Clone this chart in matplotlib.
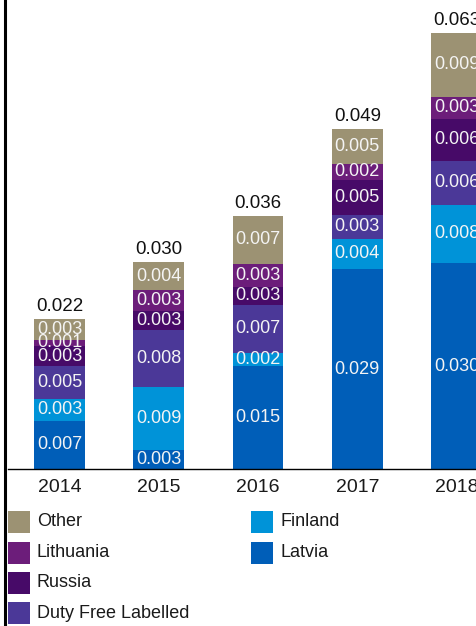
import numpy as np
import matplotlib
matplotlib.use("Agg")
import matplotlib.pyplot as plt
from matplotlib.patches import Rectangle
from matplotlib.lines import Line2D

plt.rcParams['font.family'] = ['Liberation Sans', 'DejaVu Sans']

# data (bottom -> top of each stack)
years = ['2014', '2015', '2016', '2017', '2018']
latvia = [0.0070, 0.0028, 0.0149, 0.0288, 0.0297]
finland = [0.0031, 0.0091, 0.0018, 0.0044, 0.0084]
duty_free = [0.0047, 0.0081, 0.0070, 0.0034, 0.0063]
russia = [0.0030, 0.0028, 0.0026, 0.0050, 0.0060]
lithuania = [0.0008, 0.0030, 0.0033, 0.0024, 0.0032]
other = [0.0030, 0.0040, 0.0068, 0.0050, 0.0092]

series = [
    ('Latvia', latvia, '#005eb8'),
    ('Finland', finland, '#0093d8'),
    ('Duty Free Labelled', duty_free, '#4b3898'),
    ('Russia', russia, '#470a68'),
    ('Lithuania', lithuania, '#6c1d7a'),
    ('Other', other, '#9c9273'),
]

W, H = 476, 626
fig = plt.figure(figsize=(W / 100, H / 100), dpi=100)

base_y = 469.3
ax = fig.add_axes([8 / W, 1 - base_y / H, 1 - 8 / W, base_y / H])

x = np.arange(len(years))
bottom = np.zeros(len(years))
for name, vals, col in series:
    vals = np.array(vals)
    ax.bar(x, vals, 0.51, bottom=bottom, color=col, linewidth=0)
    for xi, v, b in zip(x, vals, bottom):
        ax.text(xi, b + v / 2, f'{v:.3f}', ha='center', va='center',
                color='#f4f4f4', fontsize=13)
    bottom = bottom + vals

# totals on top
for xi, t in zip(x, bottom):
    ax.annotate(f'{t:.3f}', (xi, t), xytext=(0, 3), textcoords='offset points',
                ha='center', va='bottom', fontsize=13.5, color='#111111')

ax.set_xlim(-0.519, 4.196)
ax.set_ylim(0, base_y / 6.95 / 1000)
ax.set_xticks(x)
ax.set_xticklabels(years, fontsize=14, color='#1a1a1a')
ax.tick_params(axis='x', length=0, pad=7)
ax.set_yticks([])
for s in ['top', 'right', 'left']:
    ax.spines[s].set_visible(False)
ax.spines['bottom'].set_linewidth(1.0)
ax.spines['bottom'].set_color('black')

# thick border line on the left
fig.add_artist(Line2D([4.5 / W, 4.5 / W], [0, 1], transform=fig.transFigure,
                      color='black', linewidth=2.2))

# legend, drawn by hand (two columns, 4 + 2 items)
colors = {n: c for n, _, c in series}
leg_cols = [['Other', 'Lithuania', 'Russia', 'Duty Free Labelled'],
            ['Finland', 'Latvia']]
col_x = [8, 251]
row_y = [522, 552.5, 582.7, 613.3]
for ci, names in enumerate(leg_cols):
    for ri, n in enumerate(names):
        cy = row_y[ri]
        fig.add_artist(Rectangle((col_x[ci] / W, 1 - (cy + 11) / H), 22 / W, 22 / H,
                                 transform=fig.transFigure, color=colors[n], linewidth=0))
        fig.text((col_x[ci] + 29) / W, 1 - cy / H, n, ha='left', va='center',
                 fontsize=13, color='#1a1a1a')

fig.savefig('out.png', dpi=100)
